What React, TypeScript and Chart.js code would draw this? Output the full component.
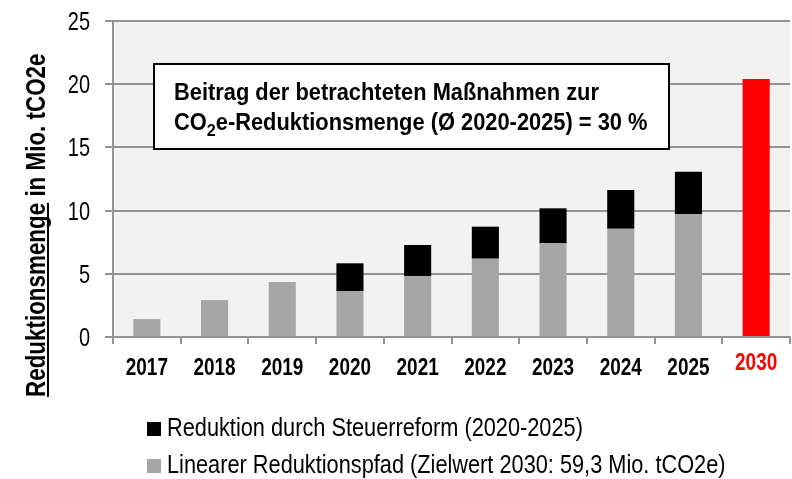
import React, { useEffect, useRef } from "react";
import { Chart, registerables } from "chart.js";

Chart.register(...registerables);

const categories = ["2017", "2018", "2019", "2020", "2021", "2022", "2023", "2024", "2025", "2030"];
const linearPath = [1.42, 2.92, 4.35, 3.64, 4.83, 6.2, 7.41, 8.57, 9.71, 20.41];
const taxReform = [0, 0, 0, 2.19, 2.45, 2.53, 2.77, 3.06, 3.37, 0];
const yTicks = [0, 5, 10, 15, 20, 25];
const legendLabels = [
  "Reduktion durch Steuerreform (2020-2025)",
  "Linearer Reduktionspfad (Zielwert 2030: 59,3 Mio. tCO2e)",
];
const boxLine1 = "Beitrag der betrachteten Maßnahmen zur";
const boxLine2Parts = ["CO", "2", "e-Reduktionsmenge (Ø 2020-2025) = 30 %"];
const yTitleParts = ["Reduktionsmenge", " in Mio. tCO2e"];

const FONT = '"Liberation Sans", Arial, sans-serif';
const GREY = "#a6a6a6";
const BLACK = "#000000";
const RED = "#ff0000";
const GRID = "#939393";

function narrowText(
  ctx: any,
  text: string,
  x: number,
  y: number,
  align: "left" | "right" | "center",
  k: number
) {
  const w = ctx.measureText(text).width * k;
  let sx = x;
  if (align === "right") sx = x - w;
  if (align === "center") sx = x - w / 2;
  ctx.save();
  ctx.translate(sx, y);
  ctx.scale(k, 1);
  ctx.textAlign = "left";
  ctx.fillText(text, 0, 0);
  ctx.restore();
  return w;
}

const decorPlugin = {
  id: "decor",
  beforeDraw(chart: any) {
    const { ctx, chartArea } = chart;
    ctx.save();
    ctx.fillStyle = "#f2f2f2";
    ctx.fillRect(chartArea.left, chartArea.top, chartArea.right - chartArea.left, chartArea.bottom - chartArea.top);
    ctx.restore();
  },
  afterDraw(chart: any) {
    const { ctx, chartArea } = chart;
    const xs = chart.scales.x;
    const ys = chart.scales.y;
    ctx.save();
    ctx.textBaseline = "alphabetic";

    // Y tick labels
    ctx.fillStyle = "#000";
    ctx.font = `25px ${FONT}`;
    yTicks.forEach((v) => {
      narrowText(ctx, String(v), 90, ys.getPixelForValue(v) + 9, "right", 0.8);
    });

    // X tick labels
    ctx.font = `bold 24px ${FONT}`;
    categories.forEach((c, i) => {
      const is2030 = c === "2030";
      ctx.fillStyle = is2030 ? RED : "#000";
      narrowText(ctx, c, xs.getPixelForValue(i), chartArea.bottom + (is2030 ? 33 : 38), "center", 0.79);
    });

    // Annotation box
    const bx = chartArea.left + 41;
    const by = chartArea.top + 43;
    const bw = 515;
    const bh = 85;
    ctx.fillStyle = "#ffffff";
    ctx.fillRect(bx, by, bw, bh);
    ctx.strokeStyle = "#000";
    ctx.lineWidth = 2;
    ctx.strokeRect(bx, by, bw, bh);
    ctx.fillStyle = "#000";
    const ka = 0.95;
    ctx.font = `bold 23px ${FONT}`;
    narrowText(ctx, boxLine1, bx + 20, by + 36, "left", ka);
    let x = bx + 20;
    const y2 = by + 66;
    x += narrowText(ctx, boxLine2Parts[0], x, y2, "left", ka);
    ctx.font = `bold 17px ${FONT}`;
    x += narrowText(ctx, boxLine2Parts[1], x, y2 + 6, "left", ka);
    ctx.font = `bold 23px ${FONT}`;
    narrowText(ctx, boxLine2Parts[2], x, y2, "left", ka);

    // Y axis title (rotated, first word underlined)
    ctx.save();
    ctx.translate(45, 397);
    ctx.rotate(-Math.PI / 2);
    ctx.font = `bold 28px ${FONT}`;
    const w0 = narrowText(ctx, yTitleParts[0], 0, 0, "left", 0.8);
    ctx.fillRect(0, 2, w0, 2);
    narrowText(ctx, yTitleParts[1], w0, 0, "left", 0.8);
    ctx.restore();

    // Legend
    const colors = [BLACK, GREY];
    const rows = [436, 473];
    ctx.font = `25px ${FONT}`;
    legendLabels.forEach((lab, i) => {
      ctx.fillStyle = colors[i];
      ctx.fillRect(147, rows[i] - 14, 14, 14);
      ctx.fillStyle = "#000";
      narrowText(ctx, lab, 167, rows[i], "left", 0.87);
    });
    ctx.restore();
  },
};

export default function App() {
  const ref = useRef<HTMLCanvasElement | null>(null);
  useEffect(() => {
    document.body.style.margin = "0";
    if (!ref.current) return;
    const chart = new Chart(ref.current, {
      type: "bar",
      data: {
        labels: categories,
        datasets: [
          {
            label: legendLabels[1],
            data: linearPath,
            backgroundColor: categories.map((c) => (c === "2030" ? RED : GREY)),
            barPercentage: 0.4,
            categoryPercentage: 1,
          },
          {
            label: legendLabels[0],
            data: taxReform,
            backgroundColor: BLACK,
            barPercentage: 0.4,
            categoryPercentage: 1,
          },
        ],
      },
      plugins: [decorPlugin],
      options: {
        responsive: false,
        animation: false,
        layout: { padding: { top: 21, right: 2, left: 0, bottom: 0 } },
        plugins: { legend: { display: false }, tooltip: { enabled: false } },
        scales: {
          x: {
            stacked: true,
            grid: { offset: true, drawOnChartArea: false, color: GRID, lineWidth: 2, tickLength: 7 },
            border: { color: GRID, width: 2 },
            ticks: { display: false },
            afterFit: (s: any) => {
              s.height = 142;
            },
          },
          y: {
            stacked: true,
            min: yTicks[0],
            max: yTicks[yTicks.length - 1],
            grid: { color: GRID, lineWidth: 2, tickLength: 8 },
            border: { color: GRID, width: 2 },
            ticks: { stepSize: 5, display: false },
            afterFit: (s: any) => {
              s.width = 113;
            },
          },
        },
      },
    } as any);
    return () => chart.destroy();
  }, []);
  return <canvas ref={ref} width={792} height={479} style={{ display: "block" }} />;
}
